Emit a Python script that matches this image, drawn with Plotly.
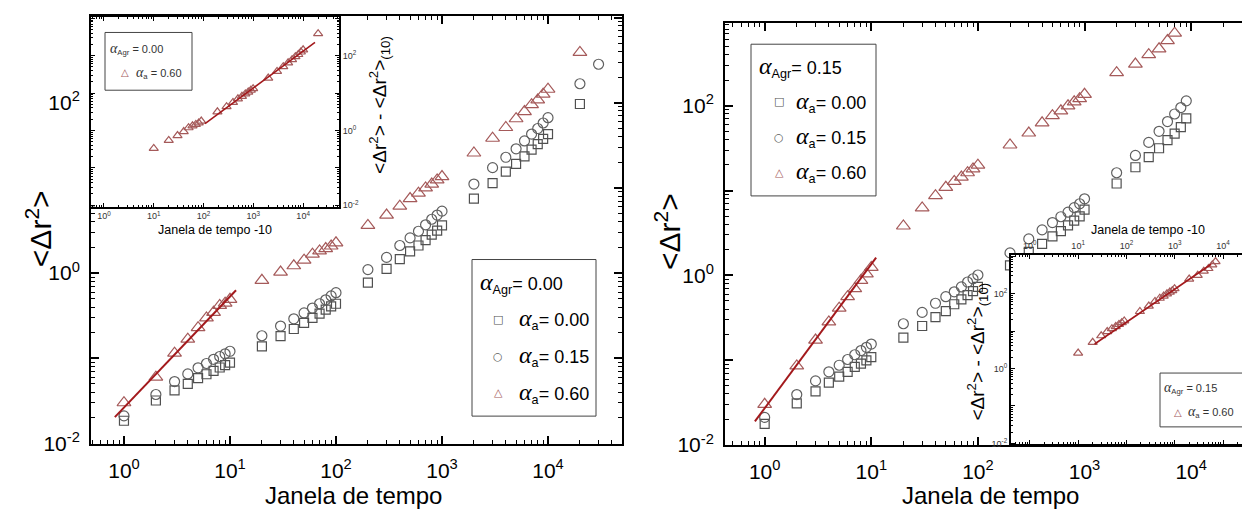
import plotly.graph_objects as go

# ---------------- data ----------------
T_LEFT = [1, 2, 3, 4, 5, 6, 7, 8, 9, 10,
          20, 30, 40, 50, 60, 70, 80, 90, 100,
          200, 300, 400, 500, 600, 700, 800, 900, 1000,
          2000, 3000, 4000, 5000, 6000, 7000, 8000, 9000, 10000, 20000]
T_LEFT_CIRC = T_LEFT + [30000]

left_a000 = [0.0185, 0.032, 0.042, 0.050, 0.0585, 0.065, 0.0714, 0.078, 0.083, 0.089,
             0.138, 0.182, 0.221, 0.261, 0.298, 0.335, 0.373, 0.407, 0.437,
             0.774, 1.12, 1.46, 1.80, 2.11, 2.44, 2.83, 3.15, 3.63,
             7.48, 11.4, 15.5, 19.2, 23.5, 28.1, 32.7, 37.6, 42.9, 96.6]
left_a015 = [0.0211, 0.0376, 0.0534, 0.0655, 0.0774, 0.0869, 0.0974, 0.105, 0.113, 0.121,
             0.184, 0.239, 0.291, 0.341, 0.389, 0.437, 0.486, 0.54, 0.589,
             1.10, 1.53, 2.11, 2.59, 3.1, 3.69, 4.29, 4.8, 5.34,
             11.1, 17.3, 22.9, 28.8, 35.6, 42.9, 49.8, 57.8, 66.7, 167, 283]
left_a060 = [0.0301, 0.06, 0.115, 0.168, 0.229, 0.298, 0.347, 0.418, 0.444, 0.493,
             0.824, 1.03, 1.22, 1.42, 1.67, 1.82, 1.94, 2.08, 2.27,
             3.63, 4.8, 6.1, 7.5, 8.69, 10.0, 11.1, 12.4, 13.6,
             25.7, 38.3, 51.2, 64.9, 78.8, 94.8, 108, 126, 144, 389]
left_fit_x = [0.82, 11.4]
left_fit_y = [0.0204, 0.63]

T_RIGHT = [1, 2, 3, 4, 5, 6, 7, 8, 9, 10,
           20, 30, 40, 50, 60, 70, 80, 90, 100,
           200, 300, 400, 500, 600, 700, 800, 900, 1000,
           2000, 3000, 4000, 5000, 6000, 7000, 8000, 9000]
T_RIGHT_TRI = T_RIGHT[:34]

right_a000 = [0.0178, 0.031, 0.043, 0.0546, 0.064, 0.073, 0.0835, 0.0914, 0.0998, 0.109,
              0.185, 0.253, 0.322, 0.38, 0.457, 0.521, 0.586, 0.652, 0.731,
              1.31, 1.89, 2.35, 2.88, 3.32, 3.89, 4.41, 4.95, 5.96,
              12.1, 18.8, 24.8, 31.5, 39.3, 46.9, 56, 71]
right_a015 = [0.0212, 0.0394, 0.0571, 0.073, 0.0873, 0.102, 0.116, 0.13, 0.142, 0.155,
              0.269, 0.366, 0.469, 0.561, 0.64, 0.731, 0.835, 0.912, 1.01,
              1.84, 2.69, 3.44, 4.19, 4.91, 5.55, 6.28, 6.98, 7.98,
              16.2, 25.9, 36.9, 49.9, 65, 79.8, 95, 114]
right_a060 = [0.0302, 0.0857, 0.173, 0.283, 0.411, 0.561, 0.698, 0.873, 1.04, 1.24,
              3.82, 6.23, 8.71, 10.9, 12.8, 14.4, 16.2, 18, 19.9,
              34.4, 47.6, 62.8, 76.2, 87, 99.5, 111, 121, 136,
              245, 309, 399, 468, 585, 716]
right_fit_x = [0.81, 11.1]
right_fit_y = [0.019, 1.62]

# insets: <dr2> - <dr2>(10) versus (time window - 10)
inset_left_x = [10, 20, 30, 40, 50, 60, 70, 80, 90,
                190, 290, 390, 490, 590, 690, 790, 890, 990,
                1990, 2990, 3990, 4990, 5990, 6990, 7990, 8990, 9990, 19990]
inset_left_y = [0.33, 0.54, 0.73, 0.93, 1.18, 1.33, 1.45, 1.59, 1.78,
                3.14, 4.31, 5.6, 7.0, 8.2, 9.5, 10.6, 11.9, 13.1,
                25.2, 37.8, 50.7, 64.4, 78.3, 94.3, 107.5, 125.5, 143.5, 388]
inset_left_fit_x = [107, 17300]
inset_left_fit_y = [1.52, 227]

inset_right_x = [10, 20, 30, 40, 50, 60, 70, 80, 90,
                 190, 290, 390, 490, 590, 690, 790, 890, 990,
                 1990, 2990, 3990, 4990, 5990, 6990]
inset_right_y = [2.58, 4.99, 7.47, 9.66, 11.56, 13.16, 14.96, 16.76, 18.66,
                 33.2, 46.4, 61.6, 75, 85.8, 98.3, 109.8, 119.8, 134.8,
                 243.8, 307.8, 397.8, 466.8, 583.8, 714.8]
inset_right_fit_x = [21.9, 5670]
inset_right_fit_y = [4.5, 607]

# ---------------- styling ----------------
W, H = 1250, 516
FONT = "Liberation Sans, Arial, sans-serif"
C_SQ = "#505050"
C_CI = "#606060"
C_TR = "#a55a5a"
C_FIT = "#a3191c"


def px(x):
    return x / W


def py(y):
    return 1 - y / H


def p10(n):
    return "10<sup>%d</sup>" % n


fig = go.Figure()


def add_pts(x, y, sym, color, size, xa, ya, name):
    fig.add_trace(go.Scatter(
        x=x, y=y, mode="markers", name=name, showlegend=False,
        marker=dict(symbol=sym, size=size, color=color, line=dict(color=color, width=1.2)),
        xaxis=xa, yaxis=ya))


def add_line(x, y, xa, ya, w=2):
    fig.add_trace(go.Scatter(x=x, y=y, mode="lines", showlegend=False,
                             line=dict(color=C_FIT, width=w), xaxis=xa, yaxis=ya))


# left main
add_pts(T_LEFT, left_a000, "square-open", C_SQ, 9, "x", "y", "αa = 0.00")
add_pts(T_LEFT_CIRC, left_a015, "circle-open", C_CI, 10, "x", "y", "αa = 0.15")
add_pts(T_LEFT, left_a060, "triangle-up-open", C_TR, 12, "x", "y", "αa = 0.60")
add_line(left_fit_x, left_fit_y, "x", "y")
# right main
add_pts(T_RIGHT, right_a000, "square-open", C_SQ, 9, "x2", "y2", "αa = 0.00")
add_pts(T_RIGHT, right_a015, "circle-open", C_CI, 10, "x2", "y2", "αa = 0.15")
add_pts(T_RIGHT_TRI, right_a060, "triangle-up-open", C_TR, 12, "x2", "y2", "αa = 0.60")
add_line(right_fit_x, right_fit_y, "x2", "y2")
# insets
add_pts(inset_left_x, inset_left_y, "triangle-up-open", C_TR, 8, "x3", "y3", "αa = 0.60")
add_line(inset_left_fit_x, inset_left_fit_y, "x3", "y3", 1.6)
add_pts(inset_right_x, inset_right_y, "triangle-up-open", C_TR, 8, "x4", "y4", "αa = 0.60")
add_line(inset_right_fit_x, inset_right_fit_y, "x4", "y4", 1.6)

DEC_X = [0, 1, 2, 3, 4]
DEC_Y = [-2, -1, 0, 1, 2, 3]


def main_axis(domain, rng, vals, texts, size=21, standoff=4):
    return dict(type="log", domain=domain, range=rng,
                tickmode="array", tickvals=[10 ** v for v in vals], ticktext=texts,
                ticks="inside", ticklen=8, tickwidth=1.5, tickcolor="black",
                minor=dict(ticks="inside", ticklen=4, tickwidth=1, tickcolor="black", dtick="D1"),
                showline=True, linecolor="black", linewidth=2, mirror="allticks",
                showgrid=False, zeroline=False,
                tickfont=dict(family=FONT, size=size, color="black"),
                ticklabelstandoff=standoff)


def inset_axis(domain, rng, vals, texts, side):
    return dict(type="log", domain=domain, range=rng, side=side,
                tickmode="array", tickvals=[10 ** v for v in vals], ticktext=texts,
                ticks="inside", ticklen=4, tickwidth=1, tickcolor="black",
                minor=dict(ticks="inside", ticklen=2, tickwidth=0.8, tickcolor="black", dtick="D1"),
                showline=True, linecolor="black", linewidth=2, mirror="allticks",
                showgrid=False, zeroline=False,
                tickfont=dict(family=FONT, size=9, color="#333"))


xt = [p10(v) for v in DEC_X]
yt = [p10(v) if v % 2 == 0 else "" for v in DEC_Y]

fig.update_layout(
    xaxis=main_axis([px(83), px(614)], [-0.311, 4.698], DEC_X, xt, standoff=7),
    yaxis=main_axis([py(445), py(8)], [-2, 3.02], DEC_Y, yt, standoff=5),
    xaxis2=main_axis([px(717), px(1245)], [-0.372, 4.58], DEC_X, xt, standoff=7),
    yaxis2=main_axis([py(446.6), py(15)], [-2, 2.978], DEC_Y, yt, standoff=5),
    xaxis3=inset_axis([px(83), px(331)], [-0.26, 4.72], DEC_X, xt, "bottom"),
    yaxis3=inset_axis([py(203), py(9)], [-2.04, 3.04], DEC_Y, yt, "right"),
    xaxis4=inset_axis([px(1003), px(1245)], [-0.39, 4.62], DEC_X, xt, "top"),
    yaxis4=inset_axis([py(446), py(252)], [-2.03, 3.04], DEC_Y, yt, "left"),
)
fig.update_layout(yaxis3=dict(anchor="x3"), xaxis3=dict(anchor="y3"),
                  yaxis4=dict(anchor="x4"), xaxis4=dict(anchor="y4"),
                  yaxis2=dict(anchor="x2"), xaxis2=dict(anchor="y2"))

ann = []
shapes = []


def text(x, y, s, size, angle=0, anchor="center", color="black", family=FONT):
    ann.append(dict(x=px(x), y=py(y), xref="paper", yref="paper", text=s, showarrow=False,
                    textangle=angle, xanchor=anchor, yanchor="middle",
                    font=dict(family=family, size=size, color=color)))


# axis titles
DR2 = "&lt;Δr<sup>2</sup>&gt;"
text(345, 498, "Janela de tempo", 24)
text(982, 498, "Janela de tempo", 24)
text(31, 226, DR2, 30, angle=-90)
text(660, 229, DR2, 30, angle=-90)
text(207, 227, "Janela de tempo -10", 12.5)
text(1140, 227, "Janela de tempo -10", 12.5)
DIFF = DR2 + " - " + DR2 + "<sub>(10)</sub>"
text(372, 99, DIFF, 19, angle=-90)
text(970, 351, DIFF, 19, angle=-90)

GLYPH = "DejaVu Sans"


def legend_box(x0, y0, x1, y1):
    shapes.append(dict(type="rect", xref="paper", yref="paper",
                       x0=px(x0), x1=px(x1), y0=py(y1), y1=py(y0),
                       line=dict(color="#444", width=1), fillcolor="rgba(0,0,0,0)"))


def big_alpha(sz):
    return "<span style='font-family:Liberation Serif;font-style:italic;font-size:%dpx'>α</span>" % sz


# left main legend
legend_box(464, 257, 588, 417)
text(470, 281, big_alpha(24) + "<sub>Agr</sub>= 0.00", 18, anchor="left")
for yy, g, c, lab in [(318, "□", C_SQ, "0.00"), (356, "○", C_CI, "0.15"), (393, "△", C_TR, "0.60")]:
    text(490, yy, g, 11, color=c, family=GLYPH)
    text(509, yy, big_alpha(24) + "<sub>a</sub>= " + lab, 18, anchor="left")

# right main legend
legend_box(743, 37, 868, 192)
text(749, 60, big_alpha(24) + "<sub>Agr</sub>= 0.15", 18, anchor="left")
for yy, g, c, lab in [(96, "□", C_SQ, "0.00"), (132, "○", C_CI, "0.15"), (168, "△", C_TR, "0.60")]:
    text(771, yy, g, 11, color=c, family=GLYPH)
    text(786, yy, big_alpha(24) + "<sub>a</sub>= " + lab, 18, anchor="left")

# left inset legend
legend_box(97, 25, 184, 84)
text(100, 42, big_alpha(14) + "<sub>Agr</sub> = 0.00", 11, anchor="left", color="#333")
text(117, 66, "△", 10, color=C_TR, family=GLYPH)
text(126, 66, big_alpha(14) + "<sub>a</sub> = 0.60", 11, anchor="left", color="#333")

# right inset legend
legend_box(1152, 373, 1235, 428)
text(1154, 388, big_alpha(14) + "<sub>Agr</sub> = 0.15", 11, anchor="left", color="#333")
text(1170, 413, "△", 10, color=C_TR, family=GLYPH)
text(1178, 413, big_alpha(14) + "<sub>a</sub> = 0.60", 11, anchor="left", color="#333")

fig.update_layout(
    width=W, height=H, margin=dict(l=0, r=0, t=0, b=0),
    paper_bgcolor="white", plot_bgcolor="white",
    annotations=ann, shapes=shapes, showlegend=False,
    font=dict(family=FONT),
)

fig.write_html("out.html")
